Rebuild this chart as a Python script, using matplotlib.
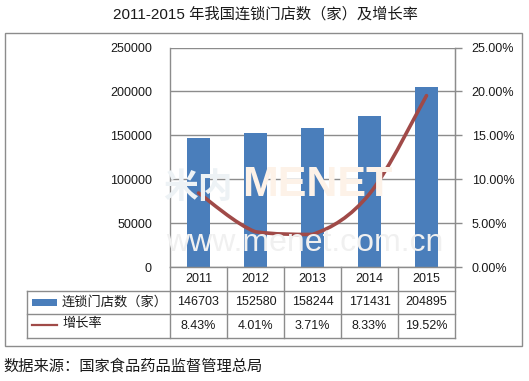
import matplotlib
matplotlib.use("Agg")
import matplotlib.pyplot as plt
import matplotlib.transforms as mtransforms
from matplotlib.path import Path
from matplotlib.patches import PathPatch, Rectangle
from matplotlib.lines import Line2D
import numpy as np

plt.rcParams['font.family'] = ['Liberation Sans', 'Noto Sans CJK SC', 'DejaVu Sans']

# data
years = ['2011', '2012', '2013', '2014', '2015']
stores = [146703, 152580, 158244, 171431, 204895]
growth = [8.43, 4.01, 3.71, 8.33, 19.52]
series_names = ['连锁门店数（家）', '增长率']
title = '2011-2015 年我国连锁门店数（家）及增长率'
source = '数据来源：国家食品药品监督管理总局'

W, H = 529, 381
bar_color = '#4A7EBB'
line_color = '#A04A48'
grid_color = '#8C8C8C'
text_color = '#1A1A1A'


def fx(px):
    return px / W


def fy(py):
    return 1 - py / H


fig = plt.figure(figsize=(W / 100, H / 100), dpi=100)

# watermark (faint, behind the chart)
fig.text(fx(163), fy(188), '米内', fontsize=25, color='#EDF2F5', ha='left', va='center',
         fontweight='bold', family=['Noto Sans CJK SC'], zorder=0)
fig.text(fx(242), fy(185), 'MENET', fontsize=31, color='#FDF2E8', ha='left', va='center',
         fontweight='bold', zorder=0)
fig.text(fx(166), fy(243), 'www.menet.com.cn', fontsize=23, color='#F0F0F0', ha='left',
         va='center', zorder=0)

# outer chart border
fig.patches.append(Rectangle((fx(5), fy(346)), fx(517), 313 / H, transform=fig.transFigure,
                             fill=False, edgecolor=grid_color, linewidth=1.0, zorder=1))

ax = fig.add_axes([fx(170), fy(267), fx(285), 219.5 / H])
ax.set_facecolor('none')
x = np.arange(len(years))
ax.bar(x, stores, width=0.4, color=bar_color, zorder=2)
ax.set_xlim(-0.5, len(years) - 0.5)
ax.set_ylim(0, 250000)
ax.set_yticks(np.arange(0, 250001, 50000))
ax.set_xticks([])
ax.yaxis.grid(True, color=grid_color, linewidth=1.0)
ax.set_axisbelow(True)
ax.tick_params(axis='y', length=0, pad=13, labelsize=9, labelcolor=text_color)
ax.spines['top'].set_visible(False)
for s in ['left', 'right', 'bottom']:
    ax.spines[s].set_color(grid_color)
    ax.spines[s].set_linewidth(1.0)

ax2 = ax.twinx()
ax2.set_ylim(0, 25)
ax2.set_yticks(np.arange(0, 25.1, 5))
ax2.set_yticklabels(['%.2f%%' % v for v in np.arange(0, 25.1, 5)])
ax2.tick_params(axis='y', length=5, width=1.0, color=grid_color, pad=7, labelsize=9,
                labelcolor=text_color)
for s in ['top', 'left', 'bottom']:
    ax2.spines[s].set_visible(False)
ax2.spines['right'].set_color(grid_color)

# smoothed growth line (cubic bezier through the data points, no overshoot)
pts = np.column_stack([x, growth]).astype(float)
n = len(pts)
verts = [pts[0]]
codes = [Path.MOVETO]
for i in range(n - 1):
    p_prev = pts[max(i - 1, 0)]
    p0, p1 = pts[i], pts[i + 1]
    p_next = pts[min(i + 2, n - 1)]
    c1 = p0 + (p1 - p_prev) / 6
    c2 = p1 - (p_next - p0) / 6
    lo, hi = min(p0[1], p1[1]), max(p0[1], p1[1])
    c1[1] = np.clip(c1[1], lo, hi)
    c2[1] = np.clip(c2[1], lo, hi)
    verts += [c1, c2, p1]
    codes += [Path.CURVE4] * 3
ax2.add_patch(PathPatch(Path(verts, codes), fill=False, edgecolor=line_color, linewidth=2.6,
                        capstyle='round', joinstyle='round', zorder=3))

# data table under the plot
tr = mtransforms.blended_transform_factory(ax.transData, ax.transAxes)
unit = 219.5
row_edges = [0, -23.5 / unit, -47 / unit, -71 / unit]
col_w = 285 / len(years)
label_left = -0.5 - (170 - 27) / col_w
lk = dict(color=grid_color, linewidth=1.0, transform=tr, clip_on=False)
for i in range(len(years) + 1):
    ax.add_line(Line2D([i - 0.5, i - 0.5], [0, row_edges[-1]], **lk))
ax.add_line(Line2D([label_left, label_left], [row_edges[1], row_edges[-1]], **lk))
for y in row_edges[1:]:
    ax.add_line(Line2D([label_left, len(years) - 0.5], [y, y], **lk))

mid = [(row_edges[k] + row_edges[k + 1]) / 2 for k in range(3)]
tk = dict(transform=tr, ha='center', va='center', fontsize=9, color=text_color, clip_on=False)
for i in range(len(years)):
    ax.text(i, mid[0], years[i], **tk)
    ax.text(i, mid[1], str(stores[i]), **tk)
    ax.text(i, mid[2], '%.2f%%' % growth[i], **tk)

# legend keys inside the table
key_l = label_left + 5 / col_w
key_r = label_left + 30 / col_w
ax.add_patch(Rectangle((key_l, mid[1] - 3.5 / unit), key_r - key_l, 7 / unit, transform=tr,
                       facecolor=bar_color, edgecolor='none', clip_on=False))
ax.add_line(Line2D([key_l, key_r], [mid[2] + 1 / unit] * 2, color=line_color, linewidth=1.6,
                   transform=tr, clip_on=False))
ax.text(label_left + 35 / col_w, mid[1], series_names[0], transform=tr, ha='left', va='center',
        fontsize=9.5, color=text_color, clip_on=False)
ax.text(label_left + 35 / col_w, mid[2] + 2 / unit, series_names[1], transform=tr, ha='left',
        va='center', fontsize=9.5, color=text_color, clip_on=False)

fig.text(fx(265), fy(14), title, ha='center', va='center', fontsize=11, color=text_color)
fig.text(fx(3), fy(366), source, ha='left', va='center', fontsize=11, color=text_color)

fig.savefig('out.png', dpi=100)
